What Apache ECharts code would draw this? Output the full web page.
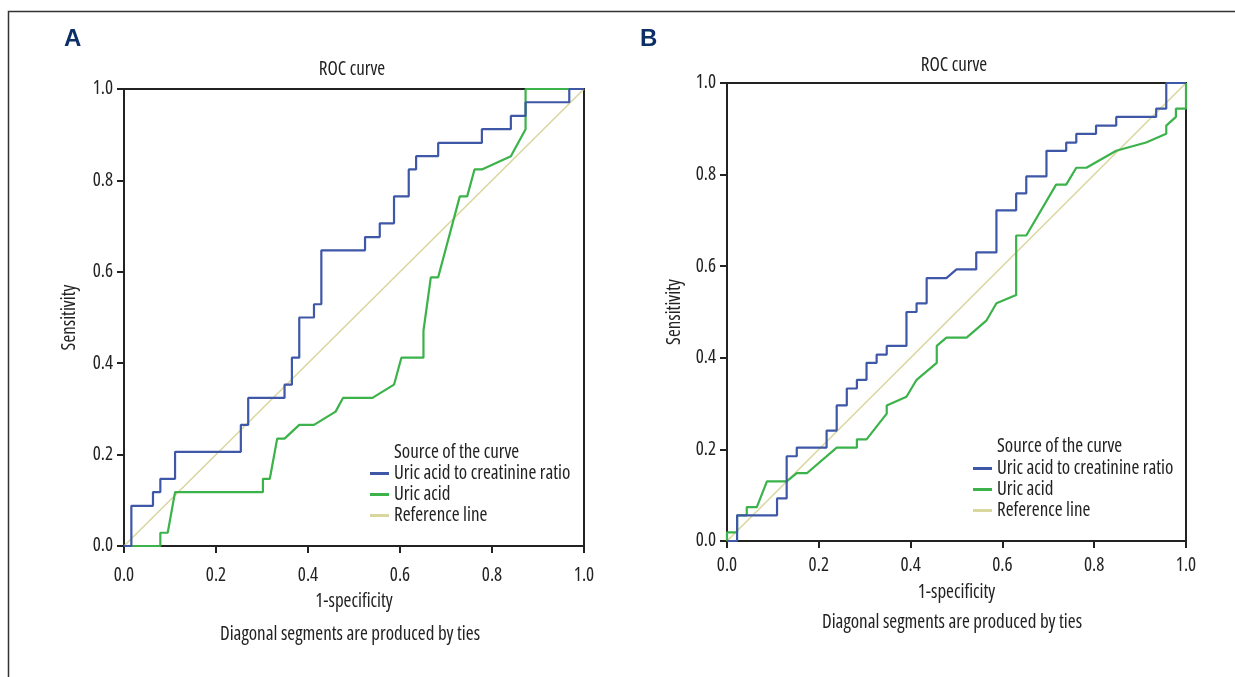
<!DOCTYPE html>
<html>
<head>
<meta charset="utf-8">
<title>ROC curves</title>
<script src="https://cdn.jsdelivr.net/npm/echarts@6.0.0/dist/echarts.min.js"></script>
<style>
html,body{margin:0;padding:0;background:#fff;}
#main{width:1235px;height:677px;}
</style>
</head>
<body>
<div id="main"></div>
<script>
// panel A: uric acid to creatinine ratio
let aRatioX = [0, 0.016, 0.016, 0.063, 0.063, 0.079, 0.079, 0.111, 0.111, 0.254, 0.254, 0.270, 0.270, 0.349, 0.349, 0.365, 0.365, 0.381, 0.381, 0.413, 0.413, 0.429, 0.429, 0.524, 0.524, 0.556, 0.556, 0.587, 0.587, 0.619, 0.619, 0.635, 0.635, 0.683, 0.683, 0.778, 0.778, 0.841, 0.841, 0.873, 0.873, 0.968, 0.968, 1];
let aRatioY = [0, 0, 0.088, 0.088, 0.118, 0.118, 0.147, 0.147, 0.206, 0.206, 0.265, 0.265, 0.324, 0.324, 0.353, 0.353, 0.412, 0.412, 0.500, 0.500, 0.529, 0.529, 0.647, 0.647, 0.676, 0.676, 0.706, 0.706, 0.765, 0.765, 0.824, 0.824, 0.853, 0.853, 0.882, 0.882, 0.912, 0.912, 0.941, 0.941, 0.971, 0.971, 1, 1];
// panel A: uric acid
let aUricX = [0, 0.079, 0.079, 0.095, 0.111, 0.302, 0.302, 0.317, 0.333, 0.349, 0.381, 0.413, 0.460, 0.476, 0.540, 0.587, 0.603, 0.651, 0.651, 0.667, 0.683, 0.730, 0.746, 0.762, 0.778, 0.841, 0.873, 0.873, 1];
let aUricY = [0, 0, 0.029, 0.029, 0.118, 0.118, 0.147, 0.147, 0.235, 0.235, 0.265, 0.265, 0.294, 0.324, 0.324, 0.353, 0.412, 0.412, 0.471, 0.588, 0.588, 0.765, 0.765, 0.824, 0.824, 0.853, 0.912, 1, 1];
// panel B: uric acid to creatinine ratio
let bRatioX = [0, 0.022, 0.022, 0.109, 0.109, 0.130, 0.130, 0.152, 0.152, 0.217, 0.217, 0.239, 0.239, 0.261, 0.261, 0.283, 0.283, 0.304, 0.304, 0.326, 0.326, 0.348, 0.348, 0.391, 0.391, 0.413, 0.413, 0.435, 0.435, 0.478, 0.500, 0.543, 0.543, 0.587, 0.587, 0.630, 0.630, 0.652, 0.652, 0.696, 0.696, 0.739, 0.739, 0.761, 0.761, 0.804, 0.804, 0.848, 0.848, 0.935, 0.935, 0.957, 0.957, 1];
let bRatioY = [0, 0, 0.056, 0.056, 0.093, 0.093, 0.185, 0.185, 0.204, 0.204, 0.241, 0.241, 0.296, 0.296, 0.333, 0.333, 0.352, 0.352, 0.389, 0.389, 0.407, 0.407, 0.426, 0.426, 0.500, 0.500, 0.519, 0.519, 0.574, 0.574, 0.593, 0.593, 0.630, 0.630, 0.722, 0.722, 0.759, 0.759, 0.796, 0.796, 0.852, 0.852, 0.870, 0.870, 0.889, 0.889, 0.907, 0.907, 0.926, 0.926, 0.944, 0.944, 1, 1];
// panel B: uric acid
let bUricX = [0, 0, 0.022, 0.022, 0.043, 0.043, 0.065, 0.087, 0.130, 0.152, 0.174, 0.239, 0.283, 0.283, 0.304, 0.348, 0.348, 0.391, 0.413, 0.457, 0.457, 0.478, 0.522, 0.565, 0.587, 0.630, 0.630, 0.652, 0.717, 0.739, 0.761, 0.783, 0.848, 0.913, 0.957, 0.957, 0.978, 0.978, 1, 1];
let bUricY = [0, 0.019, 0.019, 0.056, 0.056, 0.074, 0.074, 0.130, 0.130, 0.148, 0.148, 0.204, 0.204, 0.222, 0.222, 0.278, 0.296, 0.315, 0.352, 0.389, 0.426, 0.444, 0.444, 0.481, 0.519, 0.537, 0.667, 0.667, 0.778, 0.778, 0.815, 0.815, 0.852, 0.870, 0.889, 0.907, 0.926, 0.944, 0.944, 1];
// reference diagonal
let refX = [0, 1];
let refY = [0, 1];

let seriesNames = ['Uric acid to creatinine ratio', 'Uric acid', 'Reference line'];

// Open Sans is a variable font here, "condensed" narrows it like the original
let FONT = '"Open Sans", "Roboto Condensed", sans-serif';
let STRETCH = 'condensed';
let FS = 19;
let INK = '#222';
let BLUE = '#3f57a7';
let GREEN = '#3bb24a';
let REF = '#d9d69e';

function zip(xs, ys){
  let out = [];
  for (let i = 0; i < xs.length; i++) {
    out.push([xs[i], ys[i]]);
  }
  return out;
}
function txt(extra){
  return Object.assign({fontFamily: FONT, fontStyle: STRETCH, fontSize: FS, color: INK}, extra || {});
}

function makeX(idx, gap, margin){
  return {
    type: 'value', gridIndex: idx, min: 0, max: 1, interval: 0.2,
    name: '1-specificity', nameLocation: 'middle', nameGap: gap,
    nameTextStyle: txt(),
    axisLine: {show: true, lineStyle: {color: INK, width: 2}},
    axisTick: {show: true, length: 7, lineStyle: {color: INK, width: 2}},
    axisLabel: txt({margin: margin, formatter: function(v){ return v.toFixed(1); }}),
    splitLine: {show: false}
  };
}
function makeY(idx, gap){
  return {
    type: 'value', gridIndex: idx, min: 0, max: 1, interval: 0.2,
    name: 'Sensitivity', nameLocation: 'middle', nameGap: gap,
    nameTextStyle: txt(),
    axisLine: {show: true, lineStyle: {color: INK, width: 2}},
    axisTick: {show: true, length: 7, lineStyle: {color: INK, width: 2}},
    axisLabel: txt({margin: 11, formatter: function(v){ return v.toFixed(1); }}),
    splitLine: {show: false}
  };
}
function line(name, idx, data, color, width){
  return {
    name: name, type: 'line', xAxisIndex: idx, yAxisIndex: idx,
    data: data, symbol: 'none', clip: false, silent: true, animation: false,
    lineStyle: {color: color, width: width}, itemStyle: {color: color}
  };
}
function legend(left, top){
  return {
    data: seriesNames, orient: 'vertical', left: left, top: top, padding: 0,
    icon: 'rect', itemWidth: 19, itemHeight: 3, itemGap: 0,
    selectedMode: false,
    textStyle: txt({lineHeight: 21})
  };
}
function label(s, x, y, opts){
  return {
    type: 'text', x: x, y: y, silent: true,
    style: Object.assign({text: s, fontFamily: FONT, fontStyle: STRETCH, fontSize: FS, fill: INK,
      textAlign: 'center', textVerticalAlign: 'middle'}, opts || {})
  };
}

let myChart = echarts.init(document.getElementById('main'));
let option = {
  backgroundColor: '#fff',
  animation: false,
  grid: [
    {left: 124, top: 89, width: 460, height: 457, show: true, borderColor: INK, borderWidth: 2, backgroundColor: 'transparent'},
    {left: 727, top: 83, width: 459, height: 458, show: true, borderColor: INK, borderWidth: 2, backgroundColor: 'transparent'}
  ],
  xAxis: [makeX(0, 46, 20), makeX(1, 42, 15)],
  yAxis: [makeY(0, 45), makeY(1, 43)],
  legend: [legend(370, 463), legend(973, 458)],
  series: [
    line(seriesNames[2], 0, zip(refX, refY), REF, 1.5),
    line(seriesNames[1], 0, zip(aUricX, aUricY), GREEN, 2.2),
    line(seriesNames[0], 0, zip(aRatioX, aRatioY), BLUE, 2.2),
    line(seriesNames[2], 1, zip(refX, refY), REF, 1.5),
    line(seriesNames[1], 1, zip(bUricX, bUricY), GREEN, 2.2),
    line(seriesNames[0], 1, zip(bRatioX, bRatioY), BLUE, 2.2)
  ],
  graphic: [
    // outer frame, only left and top edges are visible
    {type: 'polyline', silent: true, shape: {points: [[8.5, 677], [8.5, 11.5], [1235, 11.5]]},
      style: {stroke: '#333', lineWidth: 1.5, fill: null}},
    label('A', 64, 39, {fontFamily: '"Liberation Sans", Arial, sans-serif', fontStyle: 'normal', fontSize: 24, fontWeight: 'bold', fill: '#0c2f68', textAlign: 'left'}),
    label('B', 640, 39, {fontFamily: '"Liberation Sans", Arial, sans-serif', fontStyle: 'normal', fontSize: 24, fontWeight: 'bold', fill: '#0c2f68', textAlign: 'left'}),
    label('ROC curve', 352, 70),
    label('ROC curve', 954, 66),
    label('Source of the curve', 394, 453, {textAlign: 'left'}),
    label('Source of the curve', 997, 447, {textAlign: 'left'}),
    label('Diagonal segments are produced by ties', 350, 635),
    label('Diagonal segments are produced by ties', 952, 623)
  ]
};
myChart.setOption(option);
</script>
</body>
</html>
